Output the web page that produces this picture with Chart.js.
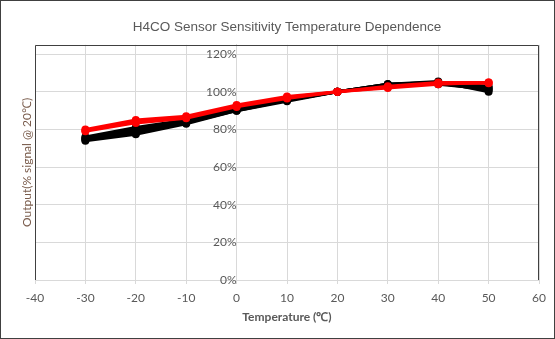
<!DOCTYPE html>
<html>
<head>
<meta charset="utf-8">
<script src="https://cdn.jsdelivr.net/npm/chart.js@4/dist/chart.umd.min.js"></script>
<style>
  body { margin: 0; background: #fff; }
  #wrap { width: 555px; height: 339px; }
</style>
</head>
<body>
<div id="wrap"><canvas id="chart" width="555" height="339"></canvas></div>
<script>
// temperatures (°C) and output relative to 20°C, one array per sensor
const temps = [-30, -20, -10, 0, 10, 20, 30, 40, 50];

const red1 = [0.80, 0.85, 0.87, 0.93, 0.975, 1.00, 1.02, 1.04, 1.05];
const red2 = [0.795, 0.84, 0.865, 0.925, 0.97, 1.00, 1.025, 1.045, 1.045];
const red3 = [0.79, 0.835, 0.86, 0.92, 0.965, 1.00, 1.03, 1.05, 1.05];

const black1 = [0.76, 0.81, 0.85, 0.91, 0.96, 1.00, 1.04, 1.05, 1.03];
const black2 = [0.75, 0.79, 0.84, 0.905, 0.955, 1.00, 1.04, 1.05, 1.02];
const black3 = [0.745, 0.78, 0.835, 0.90, 0.95, 1.00, 1.035, 1.045, 1.01];
const black4 = [0.74, 0.775, 0.83, 0.90, 0.955, 1.00, 1.04, 1.055, 1.00];
const black5 = [0.755, 0.80, 0.845, 0.91, 0.96, 1.00, 1.035, 1.04, 1.015];

const xTicks = [-40, -30, -20, -10, 0, 10, 20, 30, 40, 50, 60];
const yTicks = [0, 0.2, 0.4, 0.6, 0.8, 1.0, 1.2];

const textColor = "#595959";

function series(values, color) {
  return {
    data: temps.map((t, i) => ({ x: t, y: values[i] })),
    showLine: true,
    borderColor: color,
    backgroundColor: color,
    borderWidth: 3,
    pointRadius: 4,
    pointBorderWidth: 0
  };
}

// red drawn on top (first datasets are painted last)
const datasets = [
  series(red1, "#ff0000"),
  series(red2, "#ff0000"),
  series(red3, "#ff0000"),
  series(black1, "#000000"),
  series(black2, "#000000"),
  series(black3, "#000000"),
  series(black4, "#000000"),
  series(black5, "#000000")
];

// borders around the picture and the plot area, plus the y title on the far left
const framePlugin = {
  id: "frame",
  afterDraw(chart) {
    const c = chart.ctx;
    const a = chart.chartArea;
    c.save();
    c.strokeStyle = "#404040";
    c.lineWidth = 1;
    c.strokeRect(0.5, 0.5, chart.width - 1, chart.height - 1);
    c.beginPath();
    c.moveTo(Math.round(a.left) + 0.5, Math.round(a.bottom));
    c.lineTo(Math.round(a.left) + 0.5, Math.round(a.top) + 0.5);
    c.lineTo(Math.round(a.right) - 0.5, Math.round(a.top) + 0.5);
    c.lineTo(Math.round(a.right) - 0.5, Math.round(a.bottom));
    c.stroke();

    c.translate(27, (a.top + a.bottom) / 2);
    c.rotate(-Math.PI / 2);
    c.fillStyle = "#7a5c4c";
    c.font = "12px Lato";
    c.textAlign = "center";
    c.textBaseline = "middle";
    c.fillText("Output(% signal @ 20\u2103)", 0, 0);
    c.restore();
  }
};

new Chart(document.getElementById("chart"), {
  type: "scatter",
  data: { datasets },
  plugins: [framePlugin],
  options: {
    responsive: false,
    animation: false,
    layout: { padding: { left: 35, right: 16, top: 0, bottom: 15 } },
    plugins: {
      legend: { display: false },
      tooltip: { enabled: false },
      title: {
        display: true,
        text: "H4CO Sensor Sensitivity Temperature Dependence",
        color: textColor,
        font: { family: "Liberation Sans", size: 13.5, weight: "normal" },
        padding: { top: 18.8, bottom: 9.8 }
      }
    },
    scales: {
      x: {
        type: "linear",
        min: -40,
        max: 60,
        afterBuildTicks: s => { s.ticks = xTicks.map(v => ({ value: v })); },
        afterFit: s => { s.height = 44; },
        ticks: { color: textColor, font: { family: "Lato", size: 12 }, padding: 7 },
        grid: { color: "#d9d9d9", tickLength: 4 },
        border: { color: "#d9d9d9" },
        title: {
          display: true,
          text: "Temperature (\u2103)",
          color: textColor,
          font: { family: "Lato", size: 12, weight: "bold" },
          padding: { top: 4, bottom: 0 }
        }
      },
      y: {
        type: "linear",
        position: { x: 0 },
        min: 0,
        max: 1.25,
        afterBuildTicks: s => { s.ticks = yTicks.map(v => ({ value: v })); },
        ticks: {
          color: textColor,
          font: { family: "Lato", size: 12 },
          padding: 4,
          callback: v => Math.round(v * 100) + "%"
        },
        grid: { color: "#d9d9d9", tickLength: 4 },
        border: { color: "#d9d9d9" }
      }
    }
  }
});
</script>
</body>
</html>
